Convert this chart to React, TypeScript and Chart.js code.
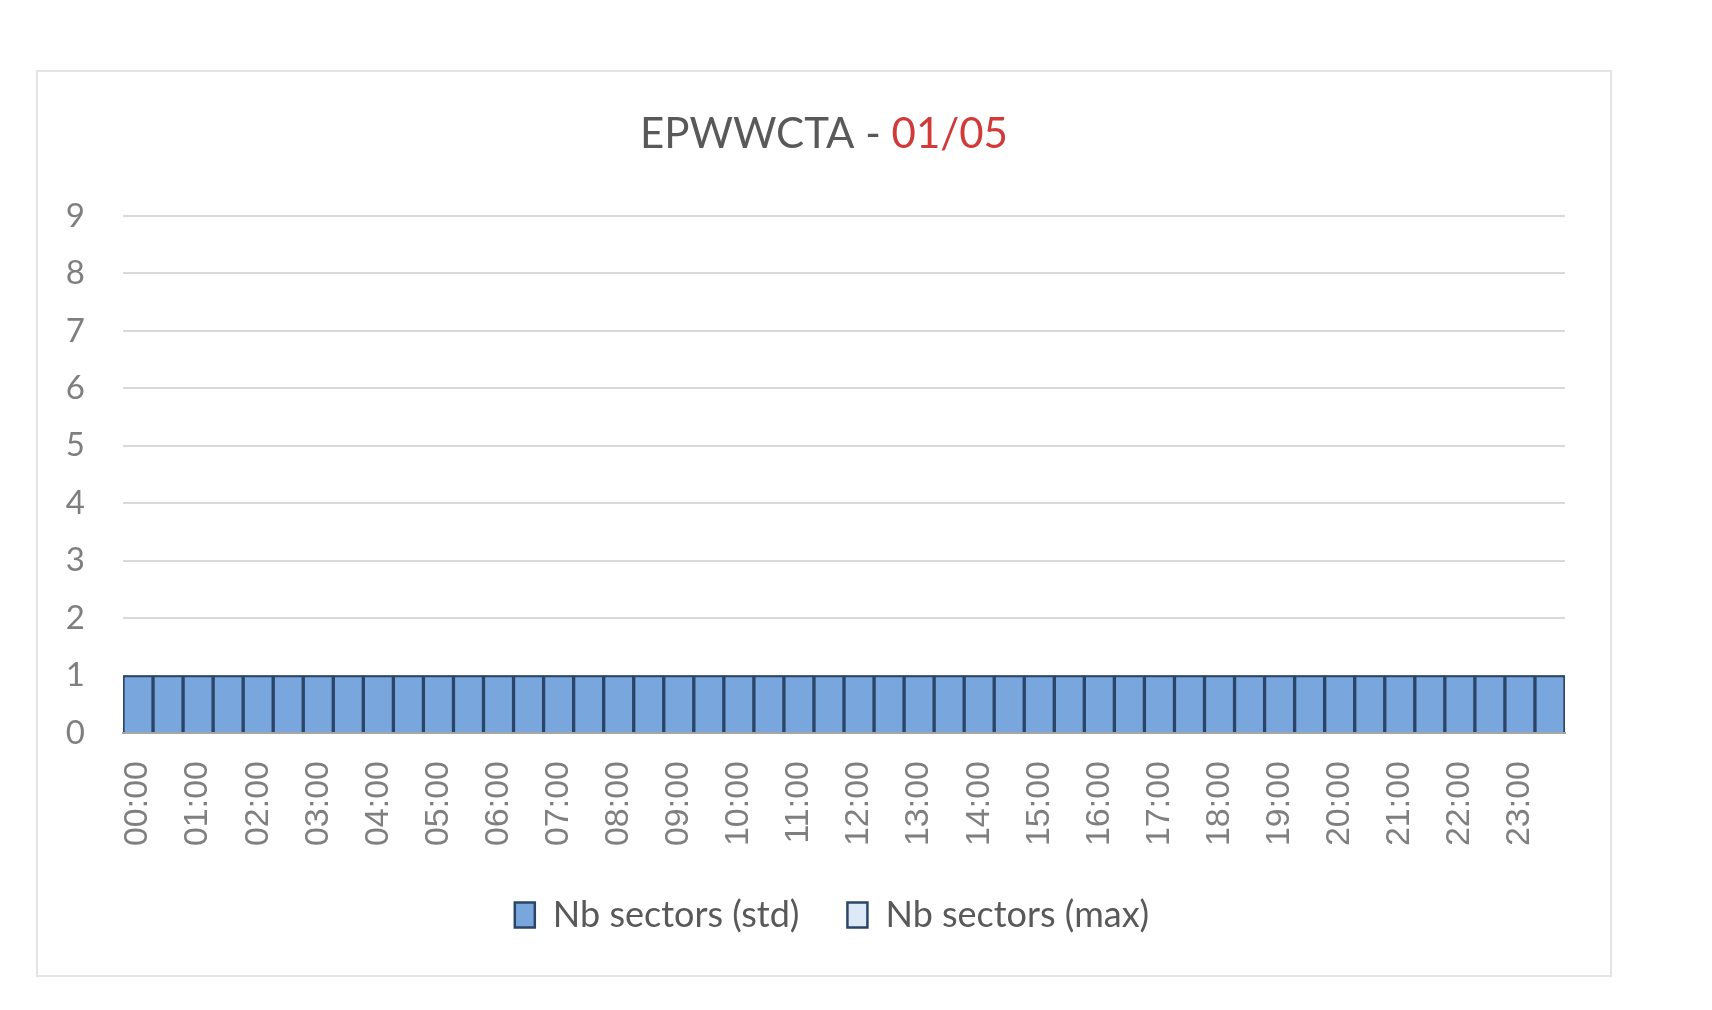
import { useEffect, useRef } from 'react';
import { Chart, ChartConfiguration, registerables } from 'chart.js';

Chart.register(...registerables);

// Half-hour slots, only the full hours get a label
const timeSlots = [
  '00:00', '00:30', '01:00', '01:30', '02:00', '02:30', '03:00', '03:30',
  '04:00', '04:30', '05:00', '05:30', '06:00', '06:30', '07:00', '07:30',
  '08:00', '08:30', '09:00', '09:30', '10:00', '10:30', '11:00', '11:30',
  '12:00', '12:30', '13:00', '13:30', '14:00', '14:30', '15:00', '15:30',
  '16:00', '16:30', '17:00', '17:30', '18:00', '18:30', '19:00', '19:30',
  '20:00', '20:30', '21:00', '21:30', '22:00', '22:30', '23:00', '23:30',
];

const nbSectorsStd = [
  1, 1, 1, 1, 1, 1, 1, 1, 1, 1, 1, 1, 1, 1, 1, 1,
  1, 1, 1, 1, 1, 1, 1, 1, 1, 1, 1, 1, 1, 1, 1, 1,
  1, 1, 1, 1, 1, 1, 1, 1, 1, 1, 1, 1, 1, 1, 1, 1,
];

const nbSectorsMax = [
  1, 1, 1, 1, 1, 1, 1, 1, 1, 1, 1, 1, 1, 1, 1, 1,
  1, 1, 1, 1, 1, 1, 1, 1, 1, 1, 1, 1, 1, 1, 1, 1,
  1, 1, 1, 1, 1, 1, 1, 1, 1, 1, 1, 1, 1, 1, 1, 1,
];

const seriesNames = ['Nb sectors (std)', 'Nb sectors (max)'];
const titleMain = 'EPWWCTA - ';
const titleDate = '01/05';
const yMin = 0;
const yMax = 9;

const FONT = 'Lato, "Open Sans", sans-serif';

// Title in two colours (grey code + red date)
const twoToneTitle = {
  id: 'twoToneTitle',
  afterDraw(chart: Chart) {
    const ctx = chart.ctx;
    ctx.save();
    ctx.font = `42px ${FONT}`;
    ctx.textBaseline = 'middle';
    ctx.textAlign = 'left';
    const w1 = ctx.measureText(titleMain).width;
    const w2 = ctx.measureText(titleDate).width;
    let x = chart.width / 2 - (w1 + w2) / 2;
    const y = 62;
    ctx.fillStyle = '#595959';
    ctx.fillText(titleMain, x, y);
    x += w1;
    ctx.fillStyle = '#d23a3a';
    ctx.fillText(titleDate, x, y);
    ctx.restore();
  },
};

const App = () => {
  const canvasRef = useRef<HTMLCanvasElement>(null);
  const chartRef = useRef<Chart | null>(null);

  useEffect(() => {
    if (!canvasRef.current) return;
    const ctx = canvasRef.current.getContext('2d');
    if (!ctx) return;

    if (chartRef.current) {
      chartRef.current.destroy();
    }

    const config: ChartConfiguration<'bar'> = {
      type: 'bar',
      data: {
        labels: timeSlots,
        datasets: [
          {
            label: seriesNames[0],
            data: nbSectorsStd,
            backgroundColor: '#7aa6de',
            borderColor: '#2b4568',
            borderWidth: 2,
            categoryPercentage: 1,
            barPercentage: 1,
            grouped: false,
            order: 1,
          },
          {
            label: seriesNames[1],
            data: nbSectorsMax,
            backgroundColor: '#dde9f7',
            borderColor: '#2b4568',
            borderWidth: 2,
            categoryPercentage: 1,
            barPercentage: 1,
            grouped: false,
            order: 2,
          },
        ],
      },
      options: {
        animation: false,
        responsive: true,
        maintainAspectRatio: false,
        layout: {
          padding: { top: 144, right: 0, left: 16, bottom: 32 },
        },
        plugins: {
          title: { display: false },
          tooltip: { enabled: false },
          legend: {
            display: true,
            position: 'bottom',
            labels: {
              color: '#595959',
              font: { family: FONT, size: 36 },
              boxWidth: 20,
              boxHeight: 25,
              padding: 48,
              generateLabels: (chart) =>
                chart.data.datasets.map((ds, i) => ({
                  text: ds.label as string,
                  fillStyle: ds.backgroundColor as string,
                  strokeStyle: ds.borderColor as string,
                  lineWidth: 2.5,
                  hidden: false,
                  datasetIndex: i,
                  fontColor: '#595959',
                })),
            },
          },
        },
        scales: {
          x: {
            // invisible tick marks give the gap between axis and labels
            grid: {
              display: true,
              drawOnChartArea: false,
              drawTicks: true,
              tickLength: 24,
              tickColor: 'rgba(0,0,0,0)',
            },
            border: { display: true, color: '#a6a6a6', width: 2 },
            ticks: {
              autoSkip: false,
              minRotation: 90,
              maxRotation: 90,
              padding: 4,
              color: '#7f7f7f',
              font: { family: '"Liberation Sans", Arial, sans-serif', size: 34 },
              callback: function (_value, index) {
                return index % 2 === 0 ? timeSlots[index] : '';
              },
            },
            afterFit: (scale) => {
              scale.height = 116;
            },
          },
          y: {
            min: yMin,
            max: yMax,
            grid: { color: '#d9d9d9', lineWidth: 2, drawTicks: false },
            border: { display: false },
            ticks: {
              stepSize: 1,
              padding: 38,
              color: '#7f7f7f',
              font: { family: FONT, size: 33 },
            },
            afterFit: (scale) => {
              scale.width = 69;
            },
          },
          // empty right-hand axis, only keeps space at the right of the plot
          yRight: {
            position: 'right',
            min: yMin,
            max: yMax,
            grid: { display: false, drawTicks: false },
            border: { display: false },
            ticks: { display: false },
            afterFit: (scale) => {
              scale.width = 45;
            },
          },
        },
      },
      plugins: [twoToneTitle],
    };

    chartRef.current = new Chart(ctx, config);

    return () => {
      if (chartRef.current) {
        chartRef.current.destroy();
        chartRef.current = null;
      }
    };
  }, []);

  return (
    <div
      style={{
        position: 'fixed',
        left: 0,
        top: 0,
        width: 1712,
        height: 1010,
        background: '#ffffff',
      }}
    >
      {/* Chart frame */}
      <div
        style={{
          position: 'absolute',
          left: 36,
          top: 70,
          width: 1576,
          height: 907,
          border: '2px solid #e4e4e4',
          boxSizing: 'border-box',
        }}
      >
        <div style={{ position: 'relative', width: 1572, height: 903 }}>
          <canvas ref={canvasRef}></canvas>
        </div>
      </div>
    </div>
  );
};

export default App;
